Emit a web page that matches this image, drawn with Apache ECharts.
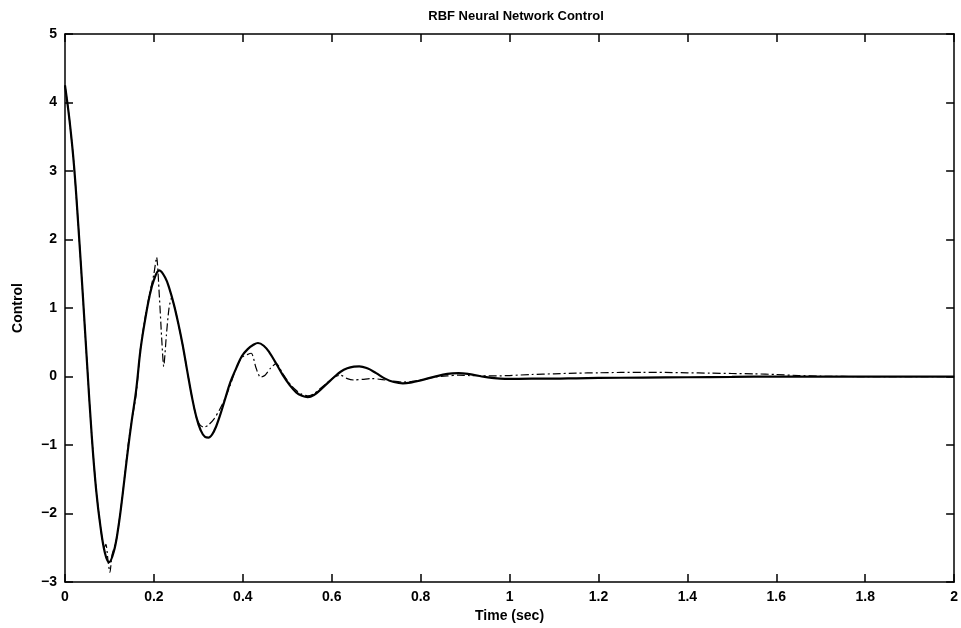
<!DOCTYPE html>
<html><head><meta charset="utf-8">
<script src="https://cdn.jsdelivr.net/npm/echarts@6/dist/echarts.min.js"></script>
<style>html,body{margin:0;padding:0;background:#fff}#c{width:961px;height:628px}</style>
</head><body><div id="c"></div>
<script>
var titleText = 'RBF Neural Network Control';
var xName = 'Time (sec)';
var yName = 'Control';
var xTicks = [0,0.2,0.4,0.6,0.8,1,1.2,1.4,1.6,1.8,2];
var yTicks = [-3,-2,-1,0,1,2,3,4,5];

var solidT = [0,0.01,0.02,0.03,0.04,0.05,0.06,0.07,0.08,0.09,0.099,0.11,0.12,0.13,0.14,0.15,0.16,0.17,0.18,0.19,0.2,0.212,0.225,0.235,0.245,0.255,0.265,0.275,0.285,0.295,0.305,0.315,0.323,0.335,0.348,0.36,0.372,0.385,0.398,0.411,0.423,0.434,0.447,0.46,0.475,0.49,0.505,0.52,0.533,0.546,0.56,0.575,0.59,0.605,0.62,0.635,0.65,0.662,0.68,0.7,0.72,0.74,0.76,0.78,0.8,0.83,0.86,0.885,0.91,0.935,0.96,0.99,1.05,1.1,1.15,1.2,1.3,1.4,1.5,1.6,1.8,2.0];
var solidV = [4.25,3.75,3.1,2.2,1.2,0.15,-0.85,-1.65,-2.2,-2.58,-2.71,-2.55,-2.2,-1.7,-1.15,-0.65,-0.2,0.4,0.82,1.17,1.41,1.55,1.45,1.28,1.05,0.77,0.45,0.08,-0.28,-0.58,-0.78,-0.88,-0.89,-0.8,-0.58,-0.33,-0.08,0.12,0.3,0.4,0.46,0.49,0.45,0.35,0.19,0.02,-0.12,-0.23,-0.28,-0.3,-0.27,-0.19,-0.1,-0.01,0.07,0.12,0.145,0.15,0.12,0.05,-0.03,-0.08,-0.1,-0.085,-0.055,-0.005,0.04,0.05,0.035,0.005,-0.02,-0.035,-0.03,-0.03,-0.025,-0.02,-0.015,-0.01,-0.005,0,0,0];

var dashT = [0,0.01,0.02,0.03,0.04,0.05,0.06,0.07,0.08,0.088,0.092,0.097,0.101,0.106,0.115,0.12,0.13,0.142,0.15,0.16,0.17,0.18,0.19,0.2,0.206,0.212,0.218,0.222,0.228,0.234,0.24,0.245,0.255,0.265,0.275,0.285,0.295,0.303,0.312,0.322,0.335,0.348,0.36,0.372,0.385,0.398,0.41,0.419,0.43,0.44,0.45,0.462,0.475,0.49,0.505,0.52,0.533,0.546,0.56,0.575,0.59,0.605,0.62,0.635,0.65,0.67,0.69,0.71,0.73,0.76,0.78,0.8,0.83,0.86,0.885,0.91,0.94,0.97,1.0,1.05,1.1,1.15,1.2,1.25,1.3,1.35,1.4,1.45,1.5,1.55,1.6,1.65,1.7,1.8,1.9,2.0];
var dashV = [4.25,3.75,3.1,2.2,1.2,0.15,-0.85,-1.65,-2.2,-2.5,-2.45,-2.7,-2.86,-2.6,-2.4,-2.2,-1.7,-1.0,-0.65,-0.26,0.42,0.85,1.2,1.5,1.74,1.2,0.5,0.15,0.6,1.0,1.15,1.05,0.77,0.45,0.08,-0.28,-0.58,-0.7,-0.74,-0.71,-0.62,-0.48,-0.32,-0.12,0.12,0.28,0.32,0.34,0.12,-0.01,0.02,0.12,0.19,0.04,-0.1,-0.2,-0.26,-0.28,-0.25,-0.17,-0.09,-0.01,0.02,-0.03,-0.05,-0.04,-0.03,-0.04,-0.06,-0.08,-0.07,-0.05,-0.01,0.01,0.02,0.015,0.01,0.01,0.015,0.03,0.04,0.05,0.055,0.06,0.06,0.06,0.055,0.05,0.045,0.04,0.03,0.015,0.005,0,0,0];

function pairs(t, v){ return t.map(function(x,i){ return [x, v[i]]; }); }

var font = 'Liberation Sans, Arial, Helvetica, sans-serif';
var chart = echarts.init(document.getElementById('c'));
var axisCommon = {
  axisLine: {show: true, onZero: false, lineStyle: {color: '#000', width: 1.5}},
  axisTick: {show: true, inside: true, length: 8, lineStyle: {color: '#000', width: 1.5}},
  splitLine: {show: false}
};
chart.setOption({
  backgroundColor: '#fff',
  animation: false,
  title: {text: titleText, left: 511, top: 5, textAlign: 'center',
    textStyle: {fontFamily: font, fontWeight: 'bold', fontSize: 13, color: '#000'}},
  grid: {left: 65, right: 4, top: 34, bottom: 45, containLabel: false},
  xAxis: [
    Object.assign({type: 'value', min: xTicks[0], max: xTicks[xTicks.length-1], interval: 0.2,
      name: xName, nameLocation: 'middle', nameGap: 21,
      nameTextStyle: {fontFamily: font, fontWeight: 'bold', fontSize: 14, color: '#000'},
      axisLabel: {margin: 8, fontFamily: font, fontWeight: 'bold', fontSize: 14, color: '#000'}}, axisCommon),
    Object.assign({type: 'value', position: 'top', min: 0, max: 2, interval: 0.2, axisLabel: {show: false}}, axisCommon)
  ],
  yAxis: [
    Object.assign({type: 'value', min: yTicks[0], max: yTicks[yTicks.length-1], interval: 1,
      name: yName, nameLocation: 'middle', nameGap: 40, nameRotate: 90,
      nameTextStyle: {fontFamily: font, fontWeight: 'bold', fontSize: 14, color: '#000'},
      axisLabel: {margin: 8, fontFamily: font, fontWeight: 'bold', fontSize: 14, color: '#000',
        formatter: function(v){ return v < 0 ? '\u2212' + (-v) : String(v); }}}, axisCommon),
    Object.assign({type: 'value', position: 'right', min: -3, max: 5, interval: 1, axisLabel: {show: false}}, axisCommon)
  ],
  series: [
    {type: 'line', data: pairs(dashT, dashV), showSymbol: false, smooth: 0.25,
      lineStyle: {color: '#000', width: 1.2, type: [8, 3, 2, 3]}, z: 2},
    {type: 'line', data: pairs(solidT, solidV), showSymbol: false, smooth: 0.4,
      lineStyle: {color: '#000', width: 2.2}, z: 3}
  ]
});
</script></body></html>
